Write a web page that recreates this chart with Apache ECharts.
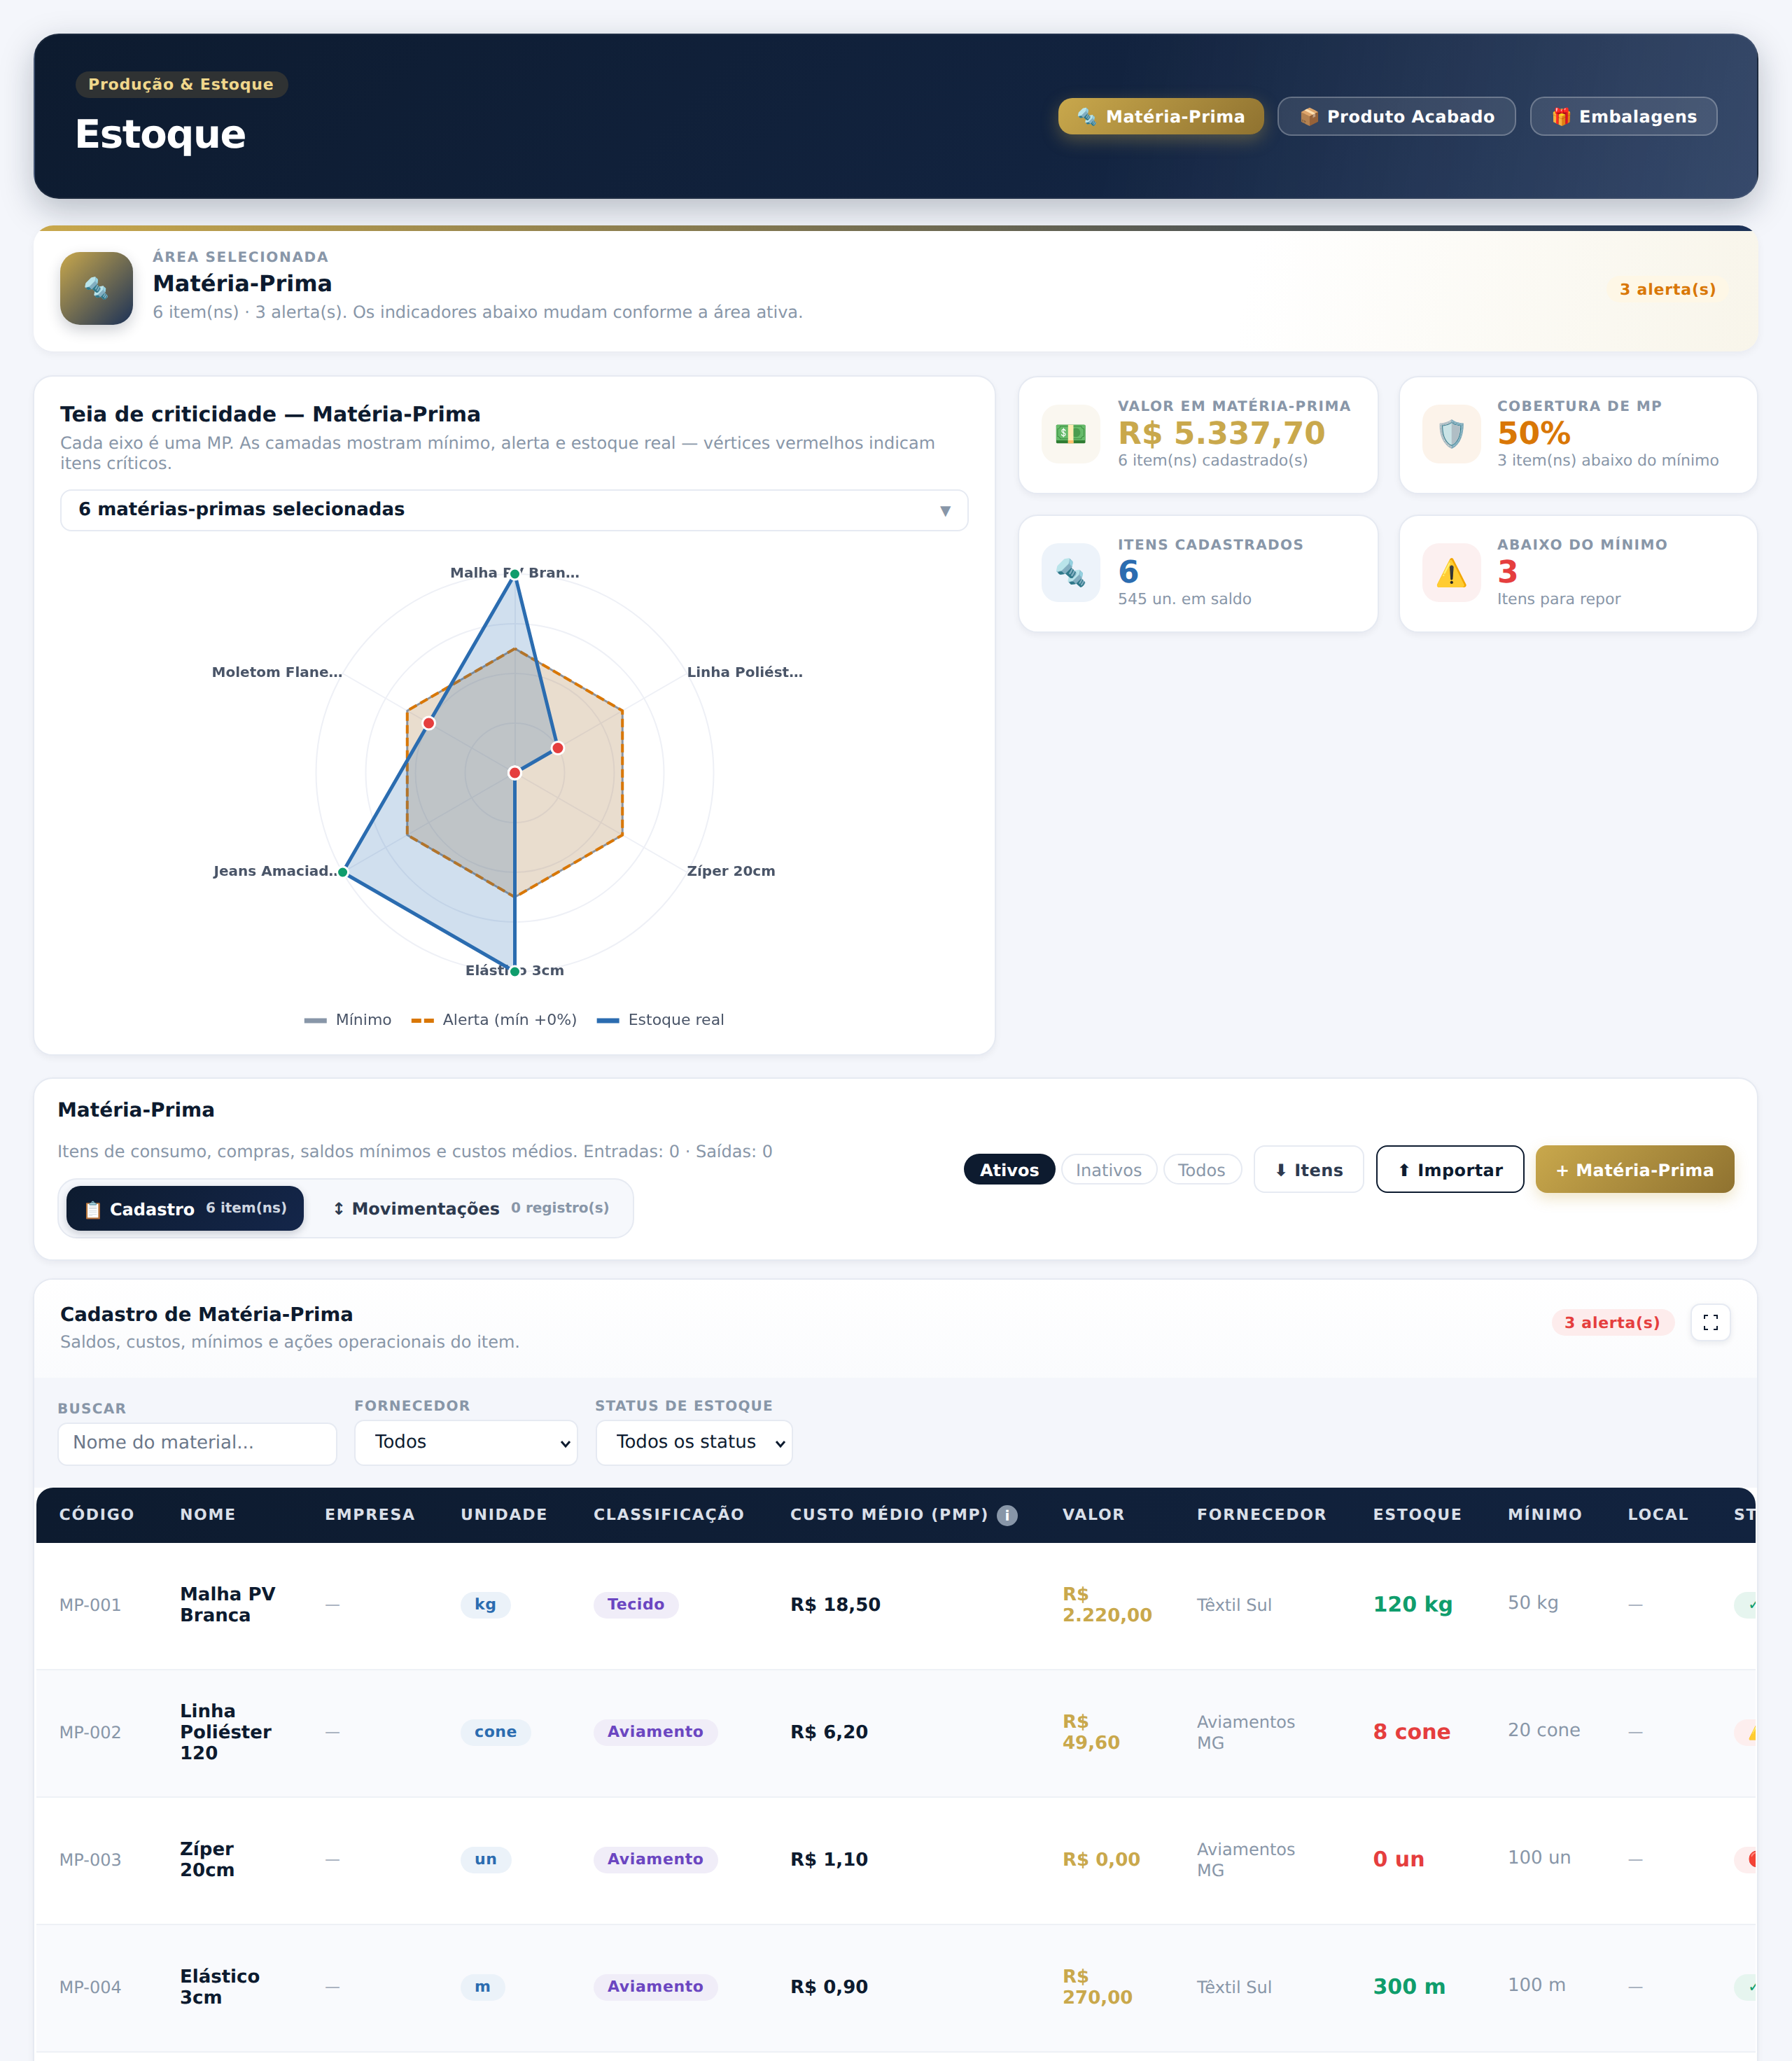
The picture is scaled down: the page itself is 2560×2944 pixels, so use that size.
<!DOCTYPE html>
<html lang="pt-BR">
<head>
<meta charset="utf-8">
<title>Estoque</title>
<script src="https://cdn.jsdelivr.net/npm/echarts@6/dist/echarts.min.js"></script>
<style>
  * { box-sizing: border-box; margin: 0; padding: 0; }
  html, body { width: 2560px; height: 2944px; overflow: hidden; background: #f4f6fb; }
  body { font-family: "DejaVu Sans", sans-serif; color: #0d1b2f; position: relative; text-rendering: geometricPrecision; }
  .box { position: absolute; }
  .txt { position: absolute; white-space: nowrap; }
  .card { position: absolute; background: #fff; border: 2px solid #e6eaf2; border-radius: 28px; box-shadow: 0 4px 10px rgba(13,27,47,.05); }
  .cell { position: absolute; display: flex; align-items: center; line-height: 30px; }
  .pill { display: inline-block; height: 38px; line-height: 38px; padding: 0 20px; border-radius: 20px; font-size: 22px; font-weight: 700; letter-spacing: .6px; white-space: nowrap; }
  select, input { font-family: inherit; font-size: 26px; color: #0d1b2f; background: #fff; border: 2px solid #e6eaf2; border-radius: 14px; position: absolute; appearance: none; text-rendering: geometricPrecision; }
  input::placeholder { color: #6b7789; }
</style>
</head>
<body>
<div id="chart" class="box" style="left:86px;top:770px;width:1298px;height:720px;z-index:5"></div>
<script>
// dados do radar (eixo normalizado 0..1); o radar gira no sentido anti-horario a partir do topo
const radarNames = ['Malha PV Bran…', 'Moletom Flane…', 'Jeans Amaciad…', 'Elástico 3cm', 'Zíper 20cm', 'Linha Poliést…']
const minimoValues = [0.625, 0.625, 0.625, 0.625, 0.625, 0.625]
const alertaValues = [0.625, 0.625, 0.625, 0.625, 0.625, 0.625]
const estoqueValues = [1, 0.5, 1, 1, 0, 0.25]
const legendNames = ['Mínimo', 'Alerta (mín +0%)', 'Estoque real']

// tabela
const tableHeaders = ['CÓDIGO', 'NOME', 'EMPRESA', 'UNIDADE', 'CLASSIFICAÇÃO', 'CUSTO MÉDIO (PMP)', 'VALOR', 'FORNECEDOR', 'ESTOQUE', 'MÍNIMO', 'LOCAL', 'STATUS']
const codes = ['MP-001', 'MP-002', 'MP-003', 'MP-004']
const names = ['Malha PV Branca', 'Linha Poliéster 120', 'Zíper 20cm', 'Elástico 3cm']
const units = ['kg', 'cone', 'un', 'm']
const classes = ['Tecido', 'Aviamento', 'Aviamento', 'Aviamento']
const costs = ['R$ 18,50', 'R$ 6,20', 'R$ 1,10', 'R$ 0,90']
const totals = ['R$ 2.220,00', 'R$ 49,60', 'R$ 0,00', 'R$ 270,00']
const suppliers = ['Têxtil Sul', 'Aviamentos MG', 'Aviamentos MG', 'Têxtil Sul']
const stocks = ['120 kg', '8 cone', '0 un', '300 m']
const minimums = ['50 kg', '20 cone', '100 un', '100 m']
const statuses = ['✓ OK', '⚠️ Baixo', '🔴 Zerado', '✓ OK']

const NAVY = '#0d1b2f', GOLD = '#c9a84c', GRAY = '#8896a8', BLUE = '#2b6cb0', RED = '#e53e3e', ORANGE = '#d97706', GREEN = '#0f9d6c'

function box(x, y, w, h, css, parent) {
  const d = document.createElement('div')
  d.className = 'box'
  d.style.cssText = `left:${x}px;top:${y}px;width:${w}px;height:${h}px;${css || ''}`
  ;(parent || document.body).appendChild(d)
  return d
}
// x = inicio do texto, base = linha de base
function txt(x, base, str, size, color, css, parent) {
  const d = document.createElement('div')
  d.className = 'txt'
  const lh = Math.round(size * 1.4)
  d.style.cssText = `left:${x}px;top:${base - (lh / 2 + 0.31 * size)}px;line-height:${lh}px;font-size:${size}px;color:${color};${css || ''}`
  d.textContent = str
  ;(parent || document.body).appendChild(d)
  return d
}
const B = 'font-weight:700;'

// ---- cabecalho
box(48, 48, 2464, 236, `border-radius:36px;border:2px solid rgba(255,255,255,.06);background:linear-gradient(100deg,transparent 62%,rgba(255,255,255,.12) 100%),linear-gradient(135deg,#0d1b2f 0%,#12233f 60%,#1b3157 100%);box-shadow:0 16px 48px rgba(13,27,47,.26)`)
box(108, 102, 304, 38, 'border-radius:20px;background:#2f3233')
txt(126, 128, 'Produção & Estoque', 22, '#f0d78c', B + 'letter-spacing:.8px')
txt(106, 210, 'Estoque', 56, '#fff', B + 'letter-spacing:-1.4px')
box(1512, 140, 294, 52, `border-radius:20px;background:linear-gradient(135deg,#c9a84c,#8f7230);box-shadow:0 8px 24px rgba(201,168,76,.35)`)
box(1825, 138, 341, 56, 'border-radius:20px;border:2px solid rgba(255,255,255,.25);background:rgba(255,255,255,.1)')
box(2186, 138, 268, 56, 'border-radius:20px;border:2px solid rgba(255,255,255,.25);background:rgba(255,255,255,.1)')
txt(1538, 174, '🔩', 24, '#fff')
txt(1580, 174, 'Matéria-Prima', 24, '#fff', B + 'letter-spacing:.5px')
txt(1856, 174, '📦', 24, '#fff')
txt(1896, 174, 'Produto Acabado', 24, '#fff', B + 'letter-spacing:.5px')
txt(2216, 174, '🎁', 24, '#fff')
txt(2256, 174, 'Embalagens', 24, '#fff', B + 'letter-spacing:.5px')

// ---- area selecionada
const area = box(48, 322, 2464, 180, 'border-radius:28px;overflow:hidden;background:linear-gradient(100deg,#fff 70%,#f8f5ea 100%);box-shadow:0 4px 12px rgba(13,27,47,.05)')
box(0, 0, 2464, 8, `background:linear-gradient(90deg,${GOLD},#1b3157)`, area)
box(86, 360, 104, 104, `border-radius:28px;background:linear-gradient(135deg,${GOLD},#1b3157);box-shadow:0 8px 20px rgba(13,27,47,.2);display:flex;align-items:center;justify-content:center;font-size:30px`).textContent = '🔩'
txt(218, 373, 'ÁREA SELECIONADA', 20, GRAY, B + 'letter-spacing:1.7px')
txt(218, 415, 'Matéria-Prima', 32, NAVY, B)
txt(218, 453, '6 item(ns) · 3 alerta(s). Os indicadores abaixo mudam conforme a área ativa.', 24, GRAY)
box(2295, 394, 175, 38, 'border-radius:20px;background:#fef7e6')
txt(2314, 421, '3 alerta(s)', 22, ORANGE, B + 'letter-spacing:.8px')

// ---- card do radar
document.body.insertBefore(box(47, 536, 1376, 972, '', null), document.getElementById('chart')).className = 'card'
txt(86, 602, 'Teia de criticidade — Matéria-Prima', 30, NAVY, B)
txt(86, 640, 'Cada eixo é uma MP. As camadas mostram mínimo, alerta e estoque real — vértices vermelhos indicam', 24, GRAY)
txt(86, 669, 'itens críticos.', 24, GRAY)
box(86, 699, 1298, 60, 'border:2px solid #e6eaf2;border-radius:16px;background:#fff')
txt(112, 736, '6 matérias-primas selecionadas', 26, NAVY, B)
txt(1343, 735, '▼', 20, GRAY)

// ---- cartoes de indicadores
function kpi(x, y, w, tx, iconX, bg, icon, label, value, color, sub) {
  box(x, y, w, 169).className = 'card'
  box(iconX, y + 41, 84, 84, `border-radius:24px;background:${bg};display:flex;align-items:center;justify-content:center;font-size:38px`).textContent = icon
  txt(tx, y + 49, label, 20, GRAY, B + 'letter-spacing:1.43px')
  txt(tx, y + 97, value, 44, color, B)
  txt(tx, y + 128, sub, 22, GRAY)
}
kpi(1454, 537, 516, 1597, 1488, '#faf7f0', '💵', 'VALOR EM MATÉRIA-PRIMA', 'R$ 5.337,70', GOLD, '6 item(ns) cadastrado(s)')
kpi(1998, 537, 514, 2139, 2032, '#fcf3ea', '🛡️', 'COBERTURA DE MP', '50%', ORANGE, '3 item(ns) abaixo do mínimo')
kpi(1454, 735, 516, 1597, 1488, '#edf3fa', '🔩', 'ITENS CADASTRADOS', '6', BLUE, '545 un. em saldo')
kpi(1998, 735, 514, 2139, 2032, '#fcf0f0', '⚠️', 'ABAIXO DO MÍNIMO', '3', RED, 'Itens para repor')

// ---- card materia-prima
box(47, 1539, 2465, 262).className = 'card'
txt(82, 1594, 'Matéria-Prima', 28, NAVY, B)
txt(82, 1652, 'Itens de consumo, compras, saldos mínimos e custos médios. Entradas: 0 · Saídas: 0', 24, GRAY)
box(82, 1683, 824, 86, 'border:2px solid #e6eaf2;border-radius:28px;background:#f6f8fc')
box(95, 1694, 339, 64, `border-radius:20px;background:linear-gradient(135deg,${NAVY},#14264a);box-shadow:0 4px 12px rgba(13,27,47,.2)`)
txt(118, 1736, '📋', 24, '#fff')
txt(157, 1735, 'Cadastro', 24, '#fff', B)
txt(294, 1731, '6 item(ns)', 20, '#cfd6e0', 'font-weight:600')
txt(474, 1734, '↕ Movimentações', 24, '#2d3a4f', B)
txt(730, 1731, '0 registro(s)', 20, GRAY, 'font-weight:600')

box(1377, 1648, 131, 44, `border-radius:22px;background:${NAVY}`)
txt(1400, 1679, 'Ativos', 24, '#fff', B)
box(1516, 1648, 138, 44, 'border-radius:22px;border:2px solid #e6eaf2;background:#fff')
txt(1537, 1679, 'Inativos', 24, GRAY)
box(1662, 1648, 113, 44, 'border-radius:22px;border:2px solid #e6eaf2;background:#fff')
txt(1683, 1679, 'Todos', 24, GRAY)
box(1791, 1636, 158, 68, 'border-radius:16px;border:2px solid #e6eaf2;background:#fff')
txt(1820, 1679, '⬇ Itens', 24, '#2d3a4f', B + 'letter-spacing:.4px')
box(1966, 1636, 212, 68, `border-radius:16px;border:2px solid ${NAVY};background:#fff`)
txt(1996, 1679, '⬆ Importar', 24, NAVY, B + 'letter-spacing:.4px')
box(2194, 1636, 284, 68, 'border-radius:16px;background:linear-gradient(135deg,#c9a84c,#8f7230);box-shadow:0 8px 20px rgba(201,168,76,.3)')
txt(2222, 1679, '+ Matéria-Prima', 24, '#fff', B + 'letter-spacing:.4px')

// ---- card cadastro (corta no fim da pagina)
const cad = box(47, 1826, 2465, 1200, 'border-radius:28px 28px 0 0')
cad.className = 'card'
box(49, 1828, 2461, 140, 'border-radius:26px 26px 0 0;background:linear-gradient(180deg,#fff,#fafbfd)')
box(49, 1968, 2461, 157, 'background:#f4f6fb')
txt(86, 1886, 'Cadastro de Matéria-Prima', 27.6, NAVY, B)
txt(86, 1924, 'Saldos, custos, mínimos e ações operacionais do item.', 24, GRAY)
box(2217, 1870, 176, 38, 'border-radius:20px;background:#fdecec')
txt(2235, 1897, '3 alerta(s)', 22, RED, B + 'letter-spacing:.7px')
const fs = box(2415, 1862, 58, 54, 'border:2px solid #e6eaf2;border-radius:14px;background:#fff;box-shadow:0 3px 8px rgba(13,27,47,.08)')
fs.innerHTML = '<svg width="54" height="50" viewBox="0 0 54 50" fill="none" stroke="#0d1b2f" stroke-width="2"><path d="M18 20v-5h5M36 20v-5h-5M18 30v5h5M36 30v5h-5"/></svg>'

txt(82, 2018, 'BUSCAR', 20, GRAY, B + 'letter-spacing:1.3px')
txt(506, 2014, 'FORNECEDOR', 20, GRAY, B + 'letter-spacing:1.25px')
txt(850, 2014, 'STATUS DE ESTOQUE', 20, GRAY, B + 'letter-spacing:1.2px')
const search = document.createElement('input')
search.placeholder = 'Nome do material...'
search.style.cssText = 'left:82px;top:2032px;width:400px;height:62px;padding:0 20px 5px'
document.body.appendChild(search)
function sel(x, w, label) {
  const s = document.createElement('select')
  s.style.cssText = `left:${x}px;top:2028px;width:${w}px;height:66px;padding:0 28px 3px`
  s.innerHTML = `<option>${label}</option>`
  document.body.appendChild(s)
  box(x + w - 26, 2054, 16, 12).innerHTML = '<svg width="16" height="12" viewBox="0 0 16 12" fill="none" stroke="#0d1b2f" stroke-width="3"><path d="M2 2l6 7 6-7"/></svg>'
}
sel(506, 320, 'Todos')
sel(851, 282, 'Todos os status')

// ---- tabela
const colX = [84.6, 257, 464, 658, 848, 1129, 1518, 1710, 1961.5, 2154, 2325.5, 2477]
const wrap = box(52, 2125, 2456, 819, 'overflow:hidden;border-radius:24px 24px 0 0;background:#fff')
box(0, 0, 2456, 79, `background:linear-gradient(90deg,${NAVY},#12233f)`, wrap)
tableHeaders.forEach((h, i) => {
  txt(colX[i] - 52, 46, h, 22, '#d9dfe8', B + 'letter-spacing:1.7px', wrap)
})
const info = box(1424 - 52, 25, 30, 30, 'border-radius:50%;background:#8896a8;color:#fff;font-size:20px;font-weight:700;text-align:center;line-height:30px', wrap)
info.textContent = 'i'

function cell(col, row, width, html, css) {
  const d = document.createElement('div')
  d.className = 'cell'
  const cy = 2293 + row * 182 - 2125
  d.style.cssText = `left:${colX[col] - 52}px;top:${cy - 60}px;width:${width}px;height:120px;${css || ''}`
  d.innerHTML = html
  wrap.appendChild(d)
}
codes.forEach((code, r) => {
  box(0, 79 + r * 182, 2456, 182, `background:${r % 2 ? '#f9fafd' : '#fff'};border-bottom:2px solid #eef1f6`, wrap)
  const low = r === 1 || r === 2
  cell(0, r, 150, code, `font-size:24px;color:${GRAY}`)
  cell(1, r, 150, names[r], `font-size:26px;font-weight:700;color:${NAVY}`)
  cell(2, r, 60, '—', 'font-size:22px;color:#9aa5b4')
  cell(3, r, 170, `<span class="pill" style="background:#ebf2f9;color:${BLUE}">${units[r]}</span>`)
  cell(4, r, 260, `<span class="pill" style="background:#f0edf8;color:#6b46c1">${classes[r]}</span>`)
  cell(5, r, 300, costs[r], `font-size:26px;font-weight:700;color:${NAVY}`)
  cell(6, r, 124, totals[r], `font-size:26px;font-weight:700;color:${GOLD}`)
  cell(7, r, 175, suppliers[r], `font-size:24px;color:${GRAY}`)
  cell(8, r, 170, stocks[r], `font-size:30px;font-weight:700;color:${low ? RED : GREEN}`)
  cell(9, r, 160, minimums[r], `font-size:26px;color:${GRAY};margin-top:-3px`)
  cell(10, r, 60, '—', 'font-size:22px;color:#9aa5b4')
  const bg = r === 0 || r === 3 ? '#e6f5ef' : '#fdeeee'
  const fg = r === 0 || r === 3 ? GREEN : RED
  cell(11, r, 200, `<span class="pill" style="background:${bg};color:${fg}">${statuses[r]}</span>`)
})

// ---- radar
const chart = echarts.init(document.getElementById('chart'))
const criticos = estoqueValues.map((v, i) => (v < minimoValues[i] ? v : '-'))
const atendidos = estoqueValues.map((v, i) => (v >= minimoValues[i] ? v : '-'))
const pontos = (name, values, color, size) => ({
  type: 'radar',
  silent: true,
  symbol: 'circle',
  symbolSize: size,
  lineStyle: { width: 0, opacity: 0 },
  itemStyle: { color: color, borderColor: '#fff', borderWidth: 3 },
  data: [{ name: name, value: values }]
})
chart.setOption({
  animation: false,
  legend: {
    top: 672,
    left: 'center',
    itemWidth: 32,
    itemHeight: 7,
    itemGap: 28,
    textStyle: { fontFamily: 'DejaVu Sans', fontSize: 22, color: '#4a5568', padding: [0, 0, 0, 8] },
    data: [
      { name: legendNames[0], icon: 'rect' },
      { name: legendNames[1], icon: 'path://M0 0H14V6H0ZM18 0H32V6H18Z' },
      { name: legendNames[2], icon: 'rect' }
    ]
  },
  radar: {
    center: [649.5, 334],
    radius: 284,
    shape: 'circle',
    splitNumber: 4,
    nameGap: 0,
    axisName: { color: '#4a5568', fontFamily: 'DejaVu Sans', fontSize: 20, fontWeight: 700, verticalAlign: 'middle' },
    splitLine: { lineStyle: { color: '#eef0f6', width: 2 } },
    axisLine: { lineStyle: { color: '#eef0f6', width: 2 } },
    splitArea: { show: false },
    indicator: radarNames.map(n => ({ name: n, min: 0, max: 1 }))
  },
  series: [
    {
      type: 'radar', symbol: 'none',
      lineStyle: { color: GRAY, width: 3, opacity: 1 }, itemStyle: { color: GRAY },
      areaStyle: { color: 'rgba(136,150,168,.16)', opacity: 1 },
      data: [{ name: legendNames[0], value: minimoValues }]
    },
    {
      type: 'radar', symbol: 'none',
      lineStyle: { color: ORANGE, width: 4, type: [12, 6], opacity: 1 }, itemStyle: { color: ORANGE },
      areaStyle: { color: 'rgba(217,119,6,.15)', opacity: 1 },
      data: [{ name: legendNames[1], value: alertaValues }]
    },
    {
      type: 'radar', symbol: 'none',
      lineStyle: { color: BLUE, width: 5, opacity: 1 }, itemStyle: { color: BLUE },
      areaStyle: { color: 'rgba(43,108,176,.22)', opacity: 1 },
      data: [{ name: legendNames[2], value: estoqueValues }]
    },
    // ordem importa: os vazios caem no centro, onde fica o ponto vermelho do Ziper
    pontos('Atendidos', atendidos, GREEN, 16),
    pontos('Críticos', criticos, RED, 18)
  ]
})
</script>
</body>
</html>
